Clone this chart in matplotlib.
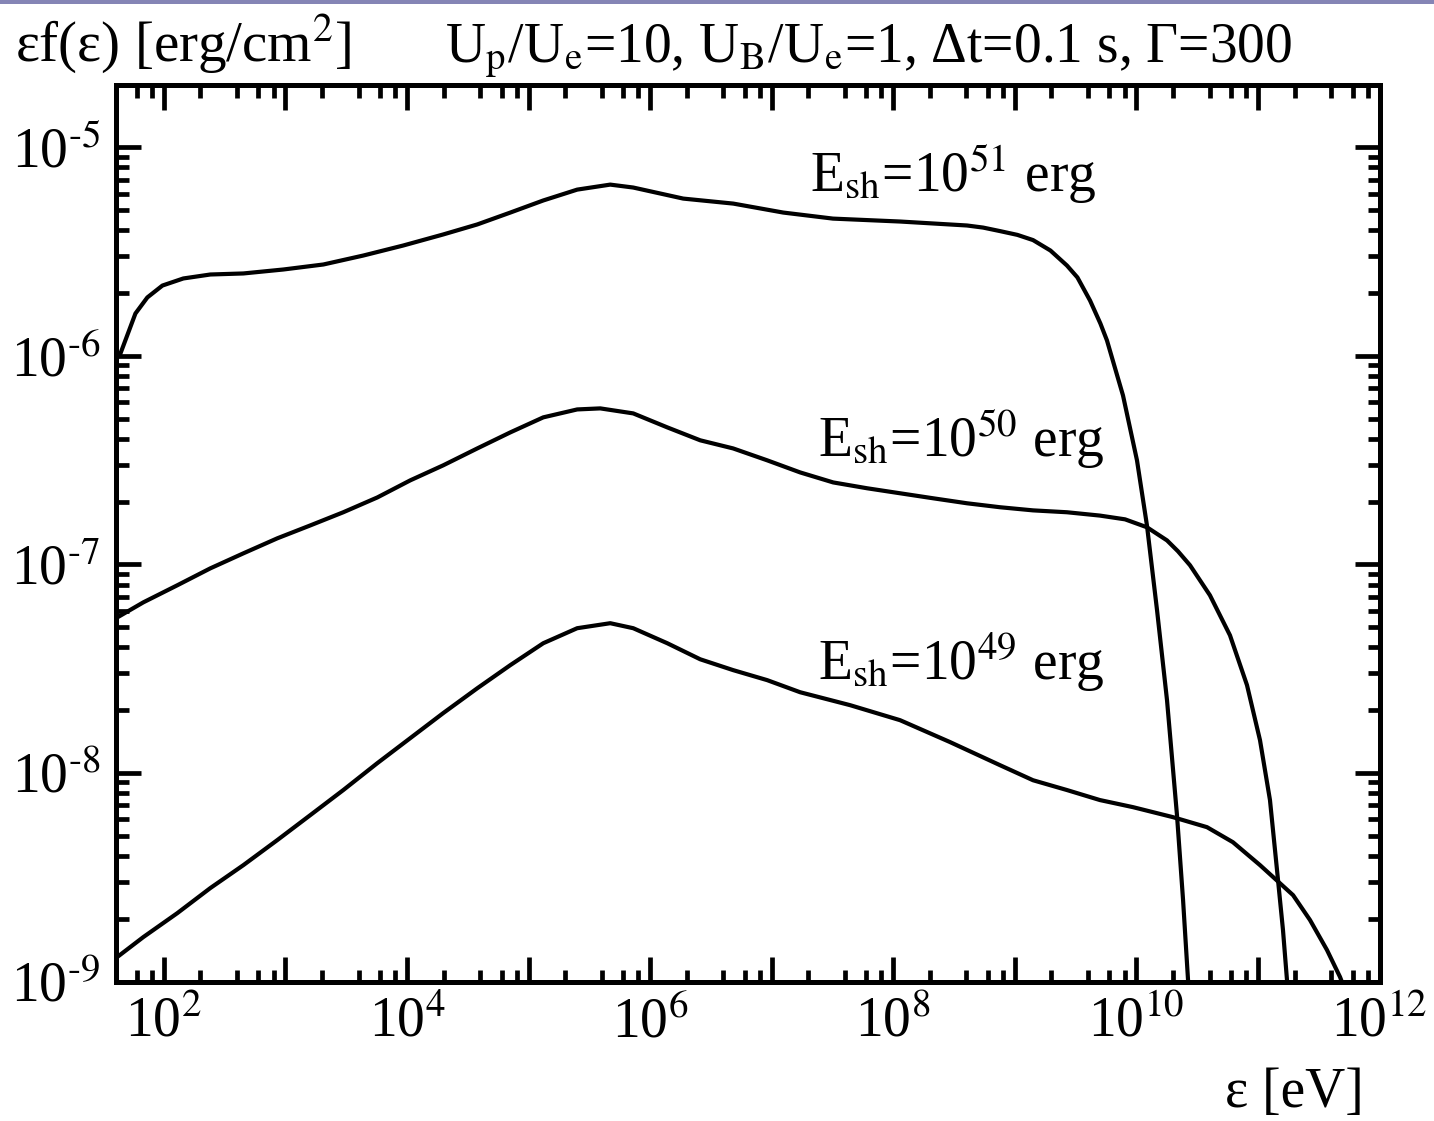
import numpy as np
import matplotlib
matplotlib.use("Agg")
import matplotlib.pyplot as plt
from matplotlib.ticker import FixedLocator, LogLocator, NullFormatter
from matplotlib.patches import Rectangle

plt.rcParams['font.family'] = ['Liberation Serif', 'DejaVu Serif']
plt.rcParams['mathtext.fontset'] = 'stix'

# spectra, as log10(eps [eV]) and log10(eps f(eps) [erg/cm2])
lx_51 = [1.60, 1.642, 1.766, 1.864, 1.988, 2.160, 2.382, 2.654, 2.983, 3.312, 3.641,
         3.969, 4.298, 4.578, 4.850, 5.121, 5.400, 5.672, 5.861, 6.272, 6.684, 7.095,
         7.504, 8.056, 8.607, 8.739, 8.879, 9.021, 9.150, 9.293, 9.429, 9.515, 9.619,
         9.704, 9.758, 9.890, 10.005, 10.087, 10.170, 10.252, 10.334, 10.384, 10.425, 10.44]
ly_51 = [-6.02, -5.99, -5.797, -5.72, -5.663, -5.629, -5.610, -5.605, -5.586, -5.562, -5.519,
         -5.471, -5.418, -5.370, -5.313, -5.255, -5.203, -5.179, -5.193, -5.246, -5.270, -5.313,
         -5.342, -5.356, -5.375, -5.385, -5.402, -5.420, -5.445, -5.495, -5.567, -5.624, -5.735,
         -5.845, -5.926, -6.190, -6.501, -6.813, -7.220, -7.651, -8.202, -8.609, -8.993, -9.09]

lx_50 = [1.60, 1.831, 2.111, 2.382, 2.654, 2.933, 3.205, 3.476, 3.756, 4.027, 4.298,
         4.578, 4.850, 5.121, 5.400, 5.590, 5.861, 6.141, 6.412, 6.683, 6.963, 7.234,
         7.506, 7.785, 8.056, 8.328, 8.607, 8.879, 9.150, 9.429, 9.700, 9.907, 10.087,
         10.252, 10.342, 10.441, 10.605, 10.770, 10.910, 11.017, 11.099, 11.157, 11.206,
         11.239, 11.25]
ly_50 = [-7.26, -7.182, -7.100, -7.019, -6.947, -6.875, -6.813, -6.750, -6.679, -6.597, -6.525,
         -6.444, -6.367, -6.295, -6.257, -6.252, -6.276, -6.343, -6.405, -6.444, -6.501, -6.559,
         -6.607, -6.635, -6.659, -6.683, -6.707, -6.726, -6.741, -6.750, -6.766, -6.784, -6.822,
         -6.885, -6.937, -7.004, -7.148, -7.340, -7.579, -7.843, -8.130, -8.466, -8.753,
         -8.993, -9.08]

lx_49 = [1.60, 1.831, 2.111, 2.382, 2.654, 2.933, 3.205, 3.476, 3.756, 4.027, 4.298,
         4.578, 4.850, 5.121, 5.400, 5.672, 5.861, 6.141, 6.412, 6.683, 6.963, 7.234,
         7.645, 8.056, 8.467, 8.879, 9.150, 9.429, 9.700, 9.972, 10.301, 10.581, 10.794,
         11.017, 11.289, 11.428, 11.568, 11.675, 11.716]
ly_49 = [-8.89, -8.787, -8.672, -8.552, -8.442, -8.322, -8.202, -8.082, -7.953, -7.833, -7.713,
         -7.594, -7.483, -7.378, -7.306, -7.282, -7.306, -7.378, -7.455, -7.507, -7.555, -7.613,
         -7.675, -7.747, -7.852, -7.963, -8.035, -8.082, -8.130, -8.164, -8.212, -8.260, -8.332,
         -8.442, -8.586, -8.705, -8.849, -8.978, -9.04]

curve_labels = [r'E$_{\mathrm{sh}}$=10$^{51}$ erg', r'E$_{\mathrm{sh}}$=10$^{50}$ erg',
                r'E$_{\mathrm{sh}}$=10$^{49}$ erg']
label_x = [2.07e7, 2.4e7, 2.4e7]
label_y = [6.07e-6, 3.26e-7, 2.79e-8]

x_ticks = [1e2, 1e3, 1e4, 1e5, 1e6, 1e7, 1e8, 1e9, 1e10, 1e11, 1e12]
x_tick_labels = [r'10$^{2}$', '', r'10$^{4}$', '', r'10$^{6}$', '', r'10$^{8}$', '',
                 r'10$^{10}$', '', r'10$^{12}$']
y_ticks = [1e-9, 1e-8, 1e-7, 1e-6, 1e-5]
y_tick_labels = [r'10$^{\text{-}9}$', r'10$^{\text{-}8}$', r'10$^{\text{-}7}$',
                 r'10$^{\text{-}6}$', r'10$^{\text{-}5}$']

W, H = 1434, 1121
fig = plt.figure(figsize=(W / 100, H / 100), dpi=100)
ax = fig.add_axes([115.5 / W, 1 - 981.5 / H, (1379.5 - 115.5) / W, (981.5 - 84.5) / H])

for lx, ly in [(lx_51, ly_51), (lx_50, ly_50), (lx_49, ly_49)]:
    ax.plot(10 ** np.array(lx), 10 ** np.array(ly), color='black', lw=3.0,
            solid_joinstyle='round', solid_capstyle='butt')

ax.set_xscale('log')
ax.set_yscale('log')
ax.set_xlim(40, 1e12)
ax.set_ylim(1e-9, 2e-5)

ax.xaxis.set_major_locator(FixedLocator(x_ticks))
ax.set_xticklabels(x_tick_labels)
ax.xaxis.set_minor_locator(LogLocator(base=10, subs=[2, 4, 6, 8], numticks=50))
ax.xaxis.set_minor_formatter(NullFormatter())
ax.yaxis.set_major_locator(FixedLocator(y_ticks))
ax.set_yticklabels(y_tick_labels)
ax.yaxis.set_minor_locator(LogLocator(base=10, subs=np.arange(2, 10), numticks=50))
ax.yaxis.set_minor_formatter(NullFormatter())

ax.tick_params(which='both', direction='in', top=True, right=True, width=3.4,
               labelsize=40, color='black')
ax.tick_params(which='major', length=18, pad=11)
ax.tick_params(which='minor', length=9)
for s in ax.spines.values():
    s.set_linewidth(3.6)

for t, x, y in zip(curve_labels, label_x, label_y):
    ax.text(x, y, t, fontsize=40, va='baseline', ha='left')

fig.text(15 / W, 1 - 62 / H, 'εf(ε) [erg/cm$^{2}$]', fontsize=41,
         va='baseline', ha='left')
fig.text(445 / W, 1 - 62 / H,
         r'U$_{\mathrm{p}}$/U$_{\mathrm{e}}$=10, U$_{\mathrm{B}}$/U$_{\mathrm{e}}$=1, Δt=0.1 s, Γ=300',
         fontsize=40, va='baseline', ha='left')
fig.text(1225 / W, 1 - 1107 / H, 'ε [eV]', fontsize=40, va='baseline', ha='left')

# thin frame bar along the top edge
fig.add_artist(Rectangle((0, 1 - 4 / H), 1, 4 / H, transform=fig.transFigure,
                         color='#8585b5', lw=0))

fig.savefig('out.png', dpi=100)
